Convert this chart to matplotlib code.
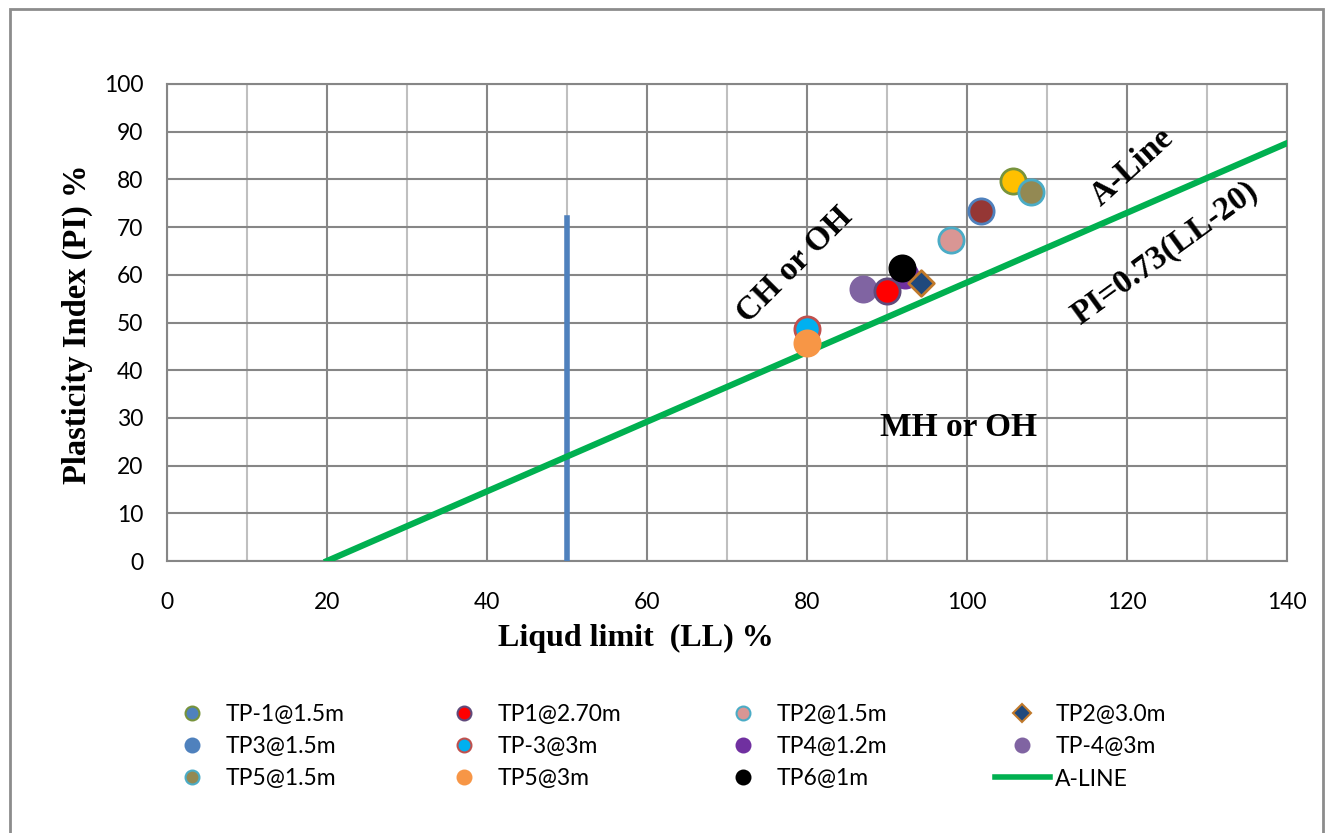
import matplotlib.pyplot as plt
from matplotlib.lines import Line2D
from matplotlib.patches import Rectangle

# sample data
labels = ['TP-1@1.5m', 'TP1@2.70m', 'TP2@1.5m', 'TP2@3.0m', 'TP3@1.5m', 'TP-3@3m',
          'TP4@1.2m', 'TP-4@3m', 'TP5@1.5m', 'TP5@3m', 'TP6@1m']
ll = [105.8, 90.0, 98.0, 94.3, 101.8, 80.0, 92.2, 87.0, 108.0, 80.0, 91.9]
pi = [79.7, 56.5, 67.4, 58.2, 73.4, 48.6, 59.9, 57.0, 77.4, 45.8, 61.4]

aline_ll = [20, 140]
aline_pi = [0, 87.6]
ll50_x = [50, 50]
ll50_y = [0, 72]

# point colours (fill, edge) and legend colours
fills = ['#FFC000', '#FF0000', '#D99694', '#1F497D', '#953735', '#00B0F0',
         '#7030A0', '#8064A2', '#938953', '#F79646', '#000000']
edges = ['#77933C', '#604A7B', '#4BACC6', '#C0792B', '#4F81BD', '#C0504D',
         '#7030A0', '#8064A2', '#4BACC6', '#F79646', '#000000']
leg_fills = ['#4F81BD', '#FF0000', '#D99694', '#1F497D', '#4F81BD', '#00B0F0',
             '#7030A0', '#8064A2', '#938953', '#F79646', '#000000']
markers = ['o', 'o', 'o', 'D', 'o', 'o', 'o', 'o', 'o', 'o', 'o']
zorders = [5, 6, 5, 7, 5, 5, 4, 5, 6, 6, 6]

W, H = 1328, 833
fig = plt.figure(figsize=(W / 100, H / 100), dpi=100)
ax = fig.add_axes([167 / W, 1 - 561 / H, 1120 / W, 477 / H])

fig.patches.append(Rectangle((10 / W, -0.05), 1313 / W, 1 - 9 / H + 0.05,
                             transform=fig.transFigure, fill=False,
                             edgecolor='#8C8C8C', linewidth=2))

ax.plot(ll50_x, ll50_y, color='#4F81BD', linewidth=4, zorder=3)
ax.plot(aline_ll, aline_pi, color='#00B050', linewidth=4.5, zorder=3)

for i in range(len(labels)):
    ms = 170 if markers[i] == 'D' else 330
    ax.scatter(ll[i], pi[i], s=ms, marker=markers[i], c=fills[i],
               edgecolors=edges[i], linewidths=2, zorder=zorders[i])

ax.set_xlim(0, 140)
ax.set_ylim(0, 100)
ax.set_xticks(range(0, 141, 20))
ax.set_xticks(range(10, 141, 20), minor=True)
ax.set_yticks(range(0, 101, 10))
ax.grid(which='major', color='#868686', linewidth=1.5, zorder=0)
ax.grid(which='minor', axis='x', color='#BFBFBF', linewidth=1.5, zorder=0)
ax.set_axisbelow(True)
for s in ax.spines.values():
    s.set_color('#868686')
    s.set_linewidth(1.5)
ax.tick_params(which='both', length=0, labelsize=16.5)
ax.tick_params(axis='y', pad=17)
ax.tick_params(axis='x', pad=22)
for t in ax.get_xticklabels() + ax.get_yticklabels():
    t.set_fontfamily('Lato')

serif = 'Liberation Serif'
ax.set_xlabel('Liqud limit  (LL) %', fontsize=23, fontweight='bold', family=serif)
ax.xaxis.set_label_coords((636 - 167) / 1120, (561 - 624) / 477)
ax.set_ylabel('Plasticity Index (PI) %', fontsize=23.5, fontweight='bold', family=serif)
ax.yaxis.set_label_coords((93 - 167) / 1120, (561 - 324) / 477)

ax.text(78.5, 62, 'CH or OH', rotation=45, fontsize=24, fontweight='bold',
        family=serif, ha='center', va='center')
ax.text(120.7, 82.5, 'A-Line', rotation=42, fontsize=24, fontweight='bold',
        family=serif, ha='center', va='center')
ax.text(124.8, 64.5, 'PI=0.73(LL-20)', rotation=36, fontsize=24, fontweight='bold',
        family=serif, ha='center', va='center')
ax.text(99, 28, 'MH or OH', fontsize=24, fontweight='bold',
        family=serif, ha='center', va='center')

# legend: four columns, filled row by row like the original
handles = []
for i in range(len(labels)):
    handles.append(Line2D([], [], linestyle='none', marker=markers[i],
                          markersize=9 if markers[i] == 'D' else 10,
                          markerfacecolor=leg_fills[i],
                          markeredgecolor=edges[i], markeredgewidth=1.5,
                          label=labels[i]))
handles.append(Line2D([], [], color='#00B050', linewidth=4, label='A-LINE'))

col_marker_x = [192, 464, 743, 1022]
fs = 16.5
half_handle = 2.4 * fs * 100 / 72 / 2
for c in range(4):
    col = [handles[r * 4 + c] for r in range(3)]
    leg = fig.legend(col, [h.get_label() for h in col], loc='center left',
                     bbox_to_anchor=((col_marker_x[c] - half_handle) / W, 1 - 747 / H),
                     frameon=False, prop={'family': 'Lato', 'size': fs},
                     borderpad=0, borderaxespad=0, handlelength=2.4,
                     handletextpad=0.25, labelspacing=0.48)

fig.savefig('out.png', dpi=100)
